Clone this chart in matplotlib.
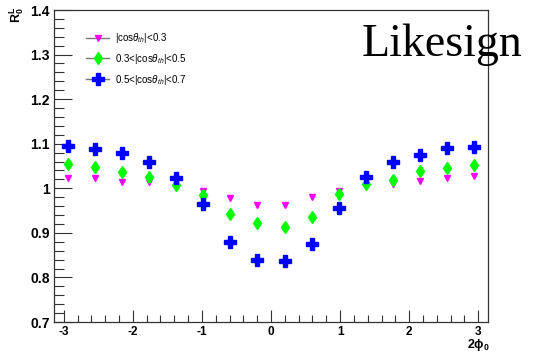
import numpy as np
import matplotlib
matplotlib.use("Agg")
import matplotlib.pyplot as plt
from matplotlib.lines import Line2D
from matplotlib.ticker import MultipleLocator

# 16 bins in 2*phi0 over [-pi, pi]
nbins = 16
edges = np.linspace(-np.pi, np.pi, nbins + 1)
phi_centers = 0.5 * (edges[:-1] + edges[1:])

r_low = [1.023, 1.022, 1.015, 1.013, 1.006, 0.995, 0.978, 0.962,
         0.962, 0.980, 0.995, 1.007, 1.009, 1.016, 1.024, 1.028]
r_mid = [1.054, 1.047, 1.037, 1.025, 1.007, 0.985, 0.942, 0.921,
         0.914, 0.936, 0.987, 1.009, 1.018, 1.038, 1.046, 1.052]
r_high = [1.095, 1.088, 1.079, 1.059, 1.022, 0.964, 0.879, 0.839,
          0.837, 0.876, 0.955, 1.026, 1.060, 1.074, 1.090, 1.093]
err_low = [0.005] * nbins
err_mid = [0.005] * nbins
err_high = [0.005] * nbins

labels = [r"|cos$\theta_{th}$|<0.3",
          r"0.3<|cos$\theta_{th}$|<0.5",
          r"0.5<|cos$\theta_{th}$|<0.7"]
colors = ["#ff00ff", "#00ff00", "#0000ff"]
markers = ["v", "d", "P"]
msizes = [5, 6, 9]

plt.rcParams["font.family"] = ["Liberation Sans", "DejaVu Sans"]
plt.rcParams["mathtext.fontset"] = "custom"
plt.rcParams["mathtext.rm"] = "Liberation Sans"
plt.rcParams["mathtext.it"] = "Liberation Sans:italic"
plt.rcParams["mathtext.bf"] = "Liberation Sans:bold"

W, H = 539, 358
fig = plt.figure(figsize=(W / 100, H / 100), dpi=100)
ax = fig.add_axes([54 / W, 1 - 322 / H, (488 - 54) / W, (322 - 10) / H])

series = [(r_low, err_low), (r_mid, err_mid), (r_high, err_high)]
for (vals, errs), c, m, ms in zip(series, colors, markers, msizes):
    ax.errorbar(phi_centers, vals, yerr=errs, fmt=m, color=c, ms=ms,
                mec=c, mfc=c, elinewidth=1.0, capsize=0, zorder=3)

ax.set_xlim(-np.pi, np.pi)
ax.set_ylim(0.7, 1.4)

ax.xaxis.set_minor_locator(MultipleLocator(0.2))
ax.yaxis.set_minor_locator(MultipleLocator(0.02))
ax.set_yticks([0.7, 0.8, 0.9, 1.0, 1.1, 1.2, 1.3, 1.4])
ax.set_yticklabels(["0.7", "0.8", "0.9", "1", "1.1", "1.2", "1.3", "1.4"])
ax.set_xticks([-3, -2, -1, 0, 1, 2, 3])
ax.set_xticklabels(["-3", "-2", "-1", "0", "1", "2", "3"])

ax.tick_params(axis="both", which="both", direction="in", top=False, right=False,
               color="#333333", width=0.8)
ax.tick_params(axis="y", which="major", length=13, pad=3, labelsize=10)
ax.tick_params(axis="y", which="minor", length=7)
ax.tick_params(axis="x", which="major", length=9, pad=3, labelsize=8.5)
ax.tick_params(axis="x", which="minor", length=5)
for lab in ax.get_xticklabels() + ax.get_yticklabels():
    lab.set_fontweight("bold")
for sp in ax.spines.values():
    sp.set_color("#333333")
    sp.set_linewidth(0.9)

handles = [Line2D([], [], color="#777777", lw=1.0, marker=m, mfc=c, mec=c, ms=ms)
           for c, m, ms in zip(colors, markers, msizes)]
ax.legend(handles, labels, loc="upper left", bbox_to_anchor=(0.065, 0.945),
          frameon=False, fontsize=7, handlelength=2.4, handletextpad=0.6,
          labelspacing=0.7, borderaxespad=0)

fig.text(362 / W, 1 - 56 / H, "Likesign", family=["Liberation Serif"],
         fontsize=33, ha="left", va="baseline")

fig.text(17 / W, 1 - 7 / H, r"$\mathbf{R_0^L}$", rotation=90, ha="center",
         va="top", fontsize=9)
fig.text(478 / W, 1 - 348 / H, r"$\mathbf{2\phi_0}$", ha="center",
         va="baseline", fontsize=9)

fig.savefig("out.png", dpi=100, facecolor="white")
